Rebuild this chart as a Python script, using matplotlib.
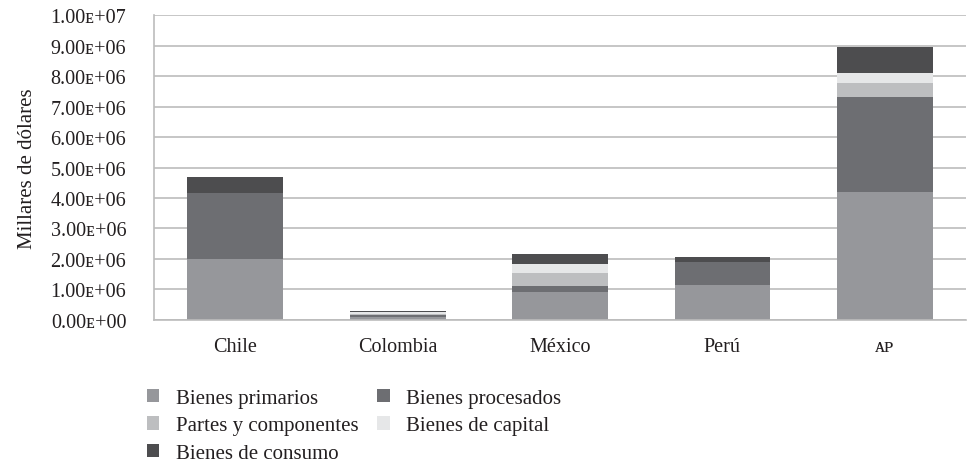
import matplotlib.pyplot as plt
import numpy as np

#====Data (millares de dolares)====
paises = ['Chile', 'Colombia', 'México', 'Perú', 'ᴀᴘ']
primarios = [2.00e6, 0.10e6, 0.92e6, 1.15e6, 4.20e6]
procesados = [2.16e6, 0.05e6, 0.19e6, 0.75e6, 3.11e6]
partes = [0.00e6, 0.04e6, 0.43e6, 0.00e6, 0.46e6]
capital = [0.00e6, 0.06e6, 0.30e6, 0.00e6, 0.33e6]
consumo = [0.53e6, 0.05e6, 0.32e6, 0.17e6, 0.85e6]

series = [('Bienes primarios', primarios, '#96979b'),
          ('Bienes procesados', procesados, '#6d6e72'),
          ('Partes y componentes', partes, '#bdbec0'),
          ('Bienes de capital', capital, '#e6e7e8'),
          ('Bienes de consumo', consumo, '#4d4d4f')]

plt.rcParams['font.family'] = ['Liberation Serif', 'DejaVu Serif']

fig = plt.figure(figsize=(9.7, 4.64), dpi=100)
ax = fig.add_axes([0.1588, 0.3082, 0.8371, 0.6573])

x = np.arange(len(paises))
bottom = np.zeros(len(paises))
handles = {}
for name, vals, col in series:
    vals = np.array(vals)
    b = ax.bar(x, vals, width=0.59, bottom=bottom, color=col, label=name, zorder=2)
    handles[name] = b
    bottom += vals

ax.set_xlim(-0.5, len(paises) - 0.5)
ax.set_ylim(0, 1e7)
yt = np.arange(0, 1.01e7, 1e6)
ax.set_yticks(yt)
ax.set_yticklabels(['%.2fᴇ+%02d' % (v / 10 ** (len(str(int(v))) - 1) if v > 0 else 0,
                                    len(str(int(v))) - 1 if v > 0 else 0) for v in yt])
ax.set_xticks(x)
ax.set_xticklabels(paises)
ax.tick_params(length=0, labelsize=14.5, colors='#231f20')
ax.tick_params(axis='x', pad=12)
ax.tick_params(axis='y', pad=20)
ax.yaxis.grid(True, color='#bcbcbc', linewidth=1.2, zorder=0)
ax.set_axisbelow(True)
for s in ['top', 'right']:
    ax.spines[s].set_visible(False)
ax.spines['left'].set_color('#bcbcbc')
ax.spines['bottom'].set_color('#bcbcbc')
ax.spines['left'].set_linewidth(1.2)
ax.spines['bottom'].set_linewidth(1.2)
ax.set_ylabel('Millares de dólares', fontsize=15, color='#231f20', labelpad=10)

order = ['Bienes primarios', 'Partes y componentes', 'Bienes de consumo',
         'Bienes procesados', 'Bienes de capital']
fig.legend([handles[n] for n in order], order, ncol=2, loc='upper left',
           bbox_to_anchor=(0.132, 0.2), frameon=False, fontsize=15,
           handlelength=0.6, handleheight=0.6, handletextpad=0.8,
           columnspacing=0.9, labelspacing=0.4, labelcolor='#231f20')

fig.savefig('out.png', dpi=100)
